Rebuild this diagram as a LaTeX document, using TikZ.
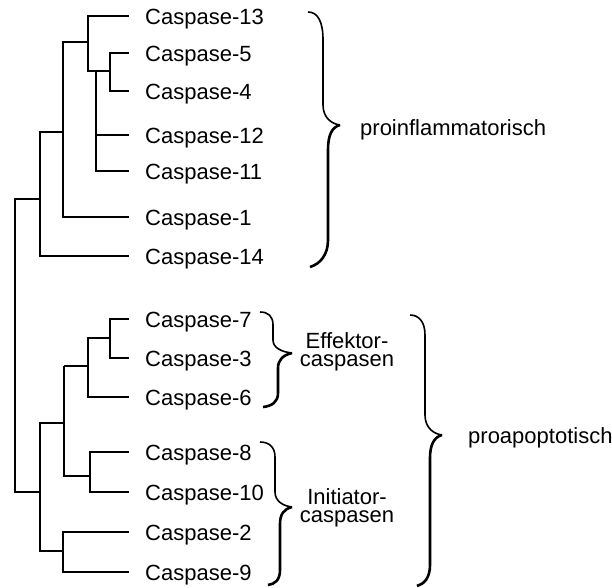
\documentclass[tikz,border=0pt]{standalone}
\usepackage{fontspec}
\setmainfont{Liberation Sans}
\begin{document}
\begin{tikzpicture}[x=1pt,y=-1pt,
  br/.style={line width=2.6pt,line cap=rect},
  thinbr/.style={line width=1.3pt},
  rootbr/.style={line width=1.8pt},
  leaf/.style={anchor=base west,inner sep=0pt,font=\fontsize{22}{22}\selectfont},
  grp/.style={inner sep=0pt,font=\fontsize{22}{22}\selectfont},
  sub/.style={inner sep=0pt,align=center,font=\fontsize{22}{18}\selectfont},
  bup/.style={line width=1.6pt},
  blo/.style={line width=2.6pt}]
\useasboundingbox (0,0) rectangle (612,587);

% leaf tips
\coordinate (t13) at (128,16);
\coordinate (t5)  at (128,53);
\coordinate (t4)  at (128,91);
\coordinate (t12) at (128,135);
\coordinate (t11) at (128,171);
\coordinate (t1)  at (128,217);
\coordinate (t14) at (128,256);
\coordinate (t7)  at (128,319);
\coordinate (t3)  at (128,358);
\coordinate (t6)  at (128,397);
\coordinate (t8)  at (128,452);
\coordinate (t10) at (128,492);
\coordinate (t2)  at (128,532);
\coordinate (t9)  at (128,572);

% leaf labels
\node[leaf] (c13) at (145,24) {Caspase-13};
\node[leaf] (c5)  at (145,61) {Caspase-5};
\node[leaf] (c4)  at (145,99) {Caspase-4};
\node[leaf] (c12) at (145,143) {Caspase-12};
\node[leaf] (c11) at (145,179) {Caspase-11};
\node[leaf] (c1)  at (145,225) {Caspase-1};
\node[leaf] (c14) at (145,264) {Caspase-14};
\node[leaf] (c7)  at (145,327) {Caspase-7};
\node[leaf] (c3)  at (145,366) {Caspase-3};
\node[leaf] (c6)  at (145,405) {Caspase-6};
\node[leaf] (c8)  at (145,460) {Caspase-8};
\node[leaf] (c10) at (145,500) {Caspase-10};
\node[leaf] (c2)  at (145,540) {Caspase-2};
\node[leaf] (c9)  at (145,580) {Caspase-9};

% internal nodes
\coordinate (n54) at (110,71);
\coordinate (nA) at (88,71);
\coordinate (nB) at (96,71);
\coordinate (nC) at (63,42);
\coordinate (nD) at (40,132);
\coordinate (root) at (15,199);
\coordinate (nE) at (40,492);
\coordinate (n73) at (110,338);
\coordinate (nF) at (88,338);
\coordinate (nG) at (64,366);
\coordinate (nH) at (90,476);
\coordinate (nI) at (40,423);
\coordinate (nJ) at (63,551);

% upper tree
\draw[br] (n54) |- (t5);
\draw[br] (n54) |- (t4);
\draw[br] (nA) |- (t13);
\draw[br] (nA) -- (n54);
\draw[br] (nB) |- (t12);
\draw[br] (nB) |- (t11);
\draw[br] (nC) -| (nA);
\draw[br] (nC) |- (t1);
\draw[br] (nD) -| (nC);
\draw[br] (nD) |- (t14);
\draw[br] (root) -- (root -| nD);
\draw[rootbr] (root) |- (nE);

% lower tree
\draw[br] (n73) |- (t7);
\draw[br] (n73) |- (t3);
\draw[br] (nF) -- (n73);
\draw[br] (nF) |- (t6);
\draw[thinbr] (nG) -- (nG -| nF);
\draw[thinbr] (nG) |- (nH);
\draw[br] (nH) |- (t8);
\draw[br] (nH) |- (t10);
\draw[br] (nI) -- (nI -| nG);
\draw[br] (nI) |- (nJ);
\draw[br] (nJ) |- (t2);
\draw[br] (nJ) |- (t9);

% braces
\draw[bup] (308,12) .. controls (318,12) and (323,22) .. (323,40) -- (323,105) .. controls (323,118) and (332,124) .. (340,125);
\draw[blo] (340,125) .. controls (332,127) and (328,135) .. (328,150) -- (328,240) .. controls (328,255) and (320,264) .. (310,267);

\draw[bup] (260,312) .. controls (268,312) and (273,316) .. (273,325) -- (273,340) .. controls (273,348) and (282,352) .. (292,353);
\draw[blo] (292,353) .. controls (283,355) and (278,360) .. (278,368) -- (278,393) .. controls (278,402) and (272,406) .. (263,407);

\draw[bup] (260,442) .. controls (269,442) and (275,447) .. (275,457) -- (275,492) .. controls (275,501) and (283,506) .. (292,507);
\draw[blo] (292,507) .. controls (284,509) and (280,514) .. (280,524) -- (280,570) .. controls (280,580) and (275,584) .. (268,585);

\draw[bup] (410,315) .. controls (419,315) and (425,322) .. (425,335) -- (425,415) .. controls (425,428) and (434,434) .. (442,435);
\draw[blo] (442,435) .. controls (434,437) and (430,445) .. (430,458) -- (430,565) .. controls (430,578) and (424,584) .. (417,586);

% group labels
\node[grp,anchor=base west] (pi) at (360,135) {proinflammatorisch};
\node[grp,anchor=base west] (pa) at (468,443) {proapoptotisch};
\node[sub] (eff) at (347,352) {Effektor-\\caspasen};
\node[sub] (ini) at (347,508) {Initiator-\\caspasen};
\end{tikzpicture}
\end{document}
